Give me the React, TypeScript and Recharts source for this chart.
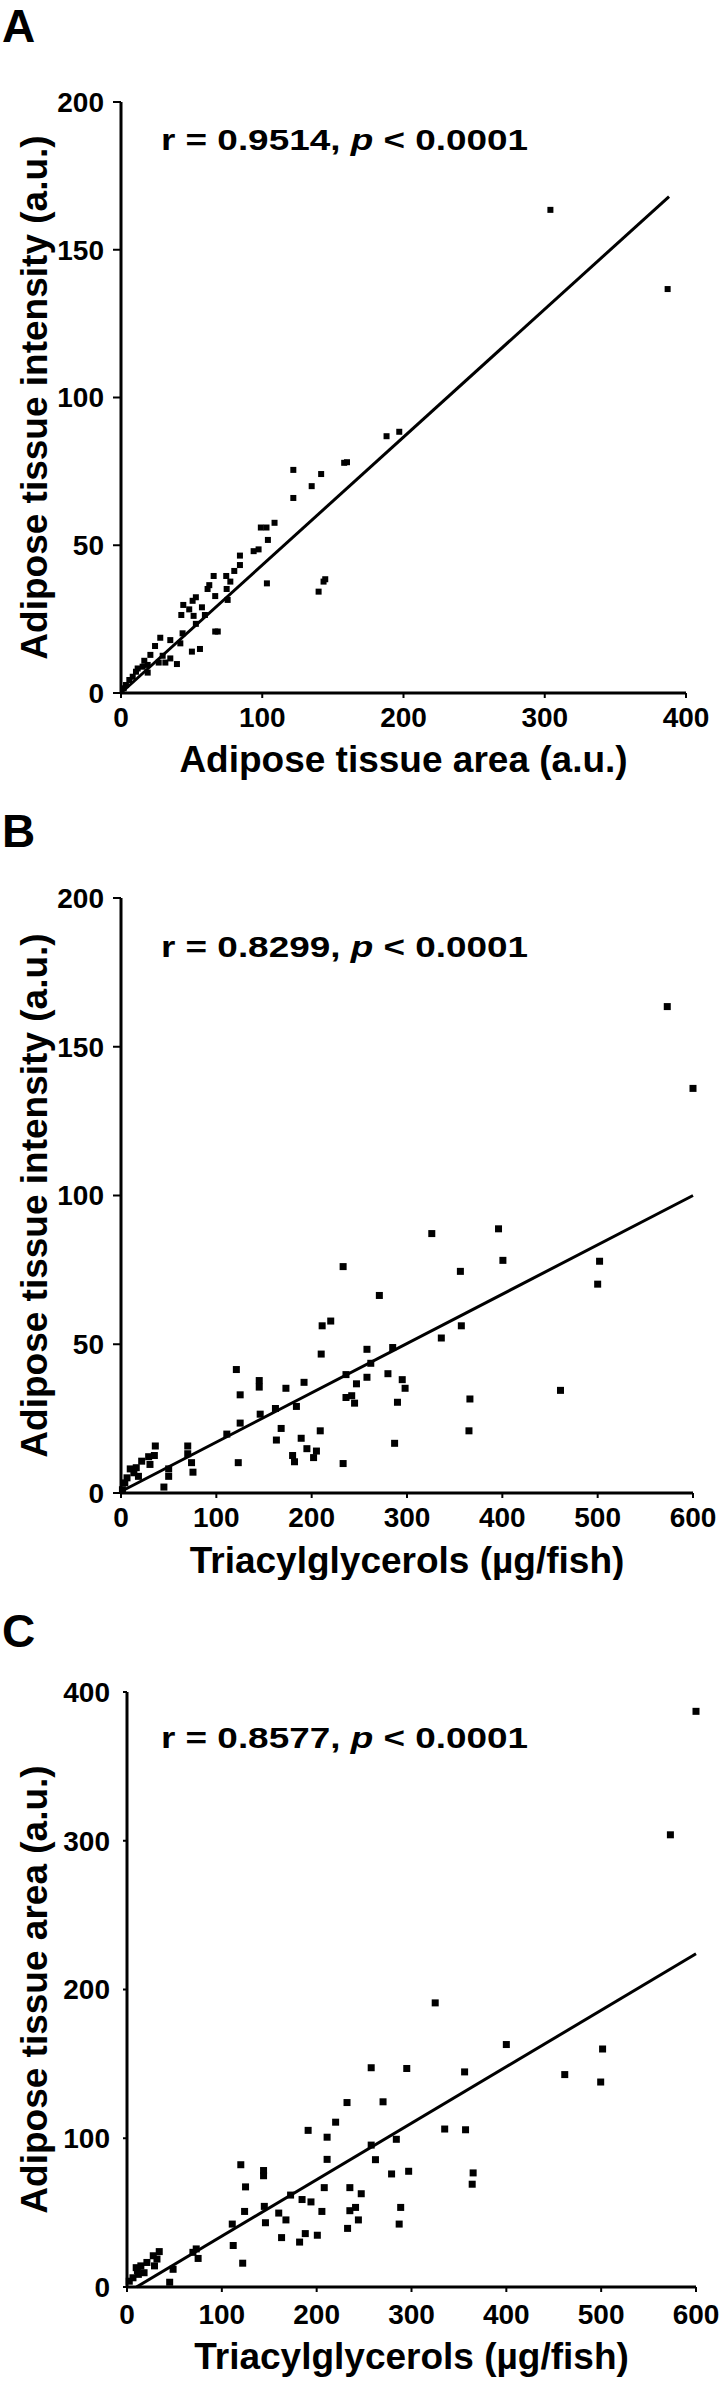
import React from 'react';
import { ScatterChart, Scatter, XAxis, YAxis, ReferenceLine } from 'recharts';

const FONT = '"Liberation Sans", Arial, Helvetica, sans-serif';

// Panel A: area (x) vs intensity (y)
const pointsA: [number, number][] = [
  [1.9, 1.6], [3.5, 2.7], [5.9, 4.4], [8.3, 5.5], [10.6, 7.2], [11.8, 8.3], [15.3, 8.9], [16.5, 10.9],
  [18.9, 9.5], [18.9, 6.9], [20.8, 12.9], [24.1, 15.9], [26.7, 10.3], [27.8, 18.7], [29.5, 12.6], [31.4, 10.3],
  [34.9, 17.9], [34.9, 11.7], [39.6, 9.8], [42, 16.8], [42.7, 26.4], [43.6, 20.2], [44.1, 29.8], [48.3, 28.3],
  [50.2, 14], [50.7, 31.2], [51.4, 26.1], [53, 32.4], [53, 23.4], [55.9, 14.9], [57.3, 29], [59.4, 26.4],
  [61.3, 35.2], [62.5, 36.5], [65.6, 39.6], [66.7, 32.8], [66.7, 20.8], [68.5, 20.8], [74.5, 39.6], [74.8, 35.2],
  [75.5, 31.5], [77.4, 37.7], [80.2, 41.3], [84.2, 43.3], [84.2, 46.5], [93.9, 48], [97.4, 48.6], [99, 56],
  [103, 56], [103.3, 37.1], [104, 51.8], [108.7, 57.6], [122, 66], [122, 75.5], [135, 70], [139.9, 34.3],
  [141.7, 74.1], [143.4, 37.7], [144.6, 38.5], [158, 77.9], [160, 78.1], [188, 86.9], [197, 88.4],
  [304, 163.5], [387, 136.7],
];
const fitA: [number, number][] = [[0, 0], [388, 168]];

// Panel B: triacylglycerols (x) vs intensity (y)
const pointsB: [number, number][] = [
  [1.5, 1.1], [4, 3.4], [6.3, 5.1], [9.7, 8.1], [13.5, 6.8], [16, 8.5], [18.3, 5.6], [21.7, 10.7],
  [29, 12.2], [30.4, 9.6], [35, 12.6], [36, 15.8], [45, 2], [50, 8.1], [50, 5.6], [70, 15.8],
  [70, 13.2], [74, 10.2], [75.5, 7], [111, 19.8], [121, 41.5], [123, 10.2], [125, 33], [125, 23.5],
  [145, 37.8], [145, 35.6], [146, 26.5], [162, 28.4], [163, 17.8], [168, 21.7], [173, 35.2], [180, 12.6],
  [182, 10.5], [184, 29.1], [189, 18.4], [192, 37.2], [195, 14.9], [202, 11.9], [205, 14.1], [209, 20.9],
  [210, 46.7], [211, 56.2], [220, 57.8], [233, 76.1], [233, 9.9], [236, 39.8], [236, 32.1], [242, 32.7],
  [245, 30.2], [247, 36.7], [258, 48.3], [258, 38.9], [262, 43.6], [271, 66.4], [280, 40.1], [285, 48.9],
  [287, 16.7], [290, 30.5], [295, 38.1], [298, 35.2], [326, 87.2], [336, 52.1], [356, 74.5], [357, 56.2],
  [365, 20.9], [366, 31.6], [396, 88.8], [400.6, 78.2], [461, 34.5], [500, 70.2], [502, 77.9],
  [573, 163.5], [600, 136],
];
const fitB: [number, number][] = [[0, 0.5], [600, 100]];

// Panel C: triacylglycerols (x) vs area (y)
const pointsC: [number, number][] = [
  [2.4, 3.9], [6.3, 6.2], [9.7, 13], [11, 10.8], [12, 8.5], [14.6, 14.2], [18, 9.6], [21, 16.5],
  [27.7, 21], [29, 14.2], [31.6, 18.8], [34, 23.8], [45, 3.2], [48.6, 11.9], [69.5, 23.3], [73, 25.6],
  [75, 19.2], [111, 42.3], [112, 27.9], [120, 82.2], [122, 16], [124, 50.8], [125, 67.3], [144, 78.3],
  [144, 74.8], [144.8, 54.2], [146, 43.2], [160, 49.7], [163, 33.2], [167.6, 45.1], [172.5, 61.8], [182, 30.2],
  [184.6, 58.8], [188, 35.9], [191, 105.3], [194, 57.2], [200.7, 34.8], [205.5, 50.8], [208, 66.8], [211, 100.7],
  [211, 85.8], [220, 110.8], [232, 124], [232.6, 39.4], [235, 66.8], [235, 51.3], [241, 53.5], [244, 45.1],
  [247, 62.7], [257.5, 147.4], [257.5, 95.4], [262, 85.6], [270, 124.5], [279, 76], [284, 99.3], [287, 42.3],
  [288.6, 53.5], [295, 146.9], [297, 77.8], [325, 191], [335, 106.2], [356, 144.6], [357, 105.7], [364, 69.1],
  [365, 76.7], [400, 163], [461.6, 142.8], [499.5, 137.8], [501.5, 160], [573, 304], [600, 387],
];
const fitC: [number, number][] = [[10, 0], [600, 224]];

const ticksArea = [0, 100, 200, 300, 400];
const ticksTag = [0, 100, 200, 300, 400, 500, 600];
const ticksIntensity = [0, 50, 100, 150, 200];

const toXY = (pts: [number, number][]) => pts.map(([x, y]) => ({ x, y }));

interface PanelProps {
  letter: string;
  r: string;
  points: [number, number][];
  fit: [number, number][];
  xTicks: number[];
  yTicks: number[];
  xTitle: string;
  yTitle: string;
  height: number;
  margin: { top: number; right: number; bottom: number; left: number };
  yAxisWidth: number;
  xAxisHeight: number;
  letterY: number;
  rY: number;
  xTitleY: number;
  yTickSize: number;
  xTickMargin: number;
  marker: number;
}

function Panel(p: PanelProps) {
  const W = 719;
  const plotTop = p.margin.top;
  const plotBottom = p.height - p.margin.bottom - p.xAxisHeight;
  const plotLeft = p.margin.left + p.yAxisWidth;
  const plotRight = W - p.margin.right;
  const cy = (plotTop + plotBottom) / 2;
  const cx = (plotLeft + plotRight) / 2;
  const s = p.marker;
  const tickStyle = { fill: '#000', fontSize: 28, fontWeight: 700, fontFamily: FONT };
  const titleStyle = { fill: '#000', fontSize: 37, fontWeight: 700, fontFamily: FONT };

  return (
    <div style={{ position: 'relative', width: W, height: p.height }}>
      <ScatterChart width={W} height={p.height} margin={p.margin}>
        <XAxis
          type="number"
          dataKey="x"
          domain={[p.xTicks[0], p.xTicks[p.xTicks.length - 1]]}
          ticks={p.xTicks}
          interval={0}
          height={p.xAxisHeight}
          axisLine={{ stroke: '#000', strokeWidth: 3 }}
          tickLine={{ stroke: '#000', strokeWidth: 2 }}
          tickSize={5}
          tickMargin={p.xTickMargin}
          tick={tickStyle}
          label={{
            content: () => (
              <text x={cx} y={p.xTitleY} textAnchor="middle" {...titleStyle}>
                {p.xTitle}
              </text>
            ),
          }}
        />
        <YAxis
          type="number"
          dataKey="y"
          domain={[p.yTicks[0], p.yTicks[p.yTicks.length - 1]]}
          ticks={p.yTicks}
          interval={0}
          width={p.yAxisWidth}
          axisLine={{ stroke: '#000', strokeWidth: 3 }}
          tickLine={{ stroke: '#000', strokeWidth: 2 }}
          tickSize={p.yTickSize}
          tickMargin={17 - p.yTickSize}
          tick={tickStyle}
          label={{
            content: () => (
              <text
                x={47}
                y={cy}
                textAnchor="middle"
                transform={`rotate(-90, 47, ${cy})`}
                {...titleStyle}
              >
                {p.yTitle}
              </text>
            ),
          }}
        />
        <ReferenceLine
          segment={p.fit.map(([x, y]) => ({ x, y }))}
          stroke="#000"
          strokeWidth={3}
          ifOverflow="visible"
        />
        <Scatter
          data={toXY(p.points)}
          isAnimationActive={false}
          shape={(props: any) => (
            <rect x={props.cx - s / 2} y={props.cy - s / 2} width={s} height={s} fill="#000" />
          )}
        />
      </ScatterChart>
      <svg
        width={W}
        height={p.height}
        style={{ position: 'absolute', left: 0, top: 0, pointerEvents: 'none' }}
      >
        <text x={2} y={p.letterY} fontSize={46} fontWeight={700} fontFamily={FONT} fill="#000">
          {p.letter}
        </text>
        <text
          x={161}
          y={p.rY}
          fontSize={30}
          fontWeight={700}
          fontFamily={FONT}
          fill="#000"
          textLength={367}
          lengthAdjust="spacingAndGlyphs"
        >
          r = {p.r}, <tspan fontStyle="italic">p</tspan> &lt; 0.0001
        </text>
      </svg>
    </div>
  );
}

export default function App() {
  return (
    <div style={{ position: 'absolute', left: 0, top: 0, width: 719, height: 2381, background: '#fff' }}>
      <Panel
        letter="A"
        r="0.9514"
        points={pointsA}
        fit={fitA}
        xTicks={ticksArea}
        yTicks={ticksIntensity}
        xTitle="Adipose tissue area (a.u.)"
        yTitle="Adipose tissue intensity (a.u.)"
        height={790}
        margin={{ top: 102, right: 33, bottom: 0, left: 0 }}
        yAxisWidth={121}
        xAxisHeight={97}
        letterY={42}
        rY={150}
        xTitleY={772}
        yTickSize={8}
        xTickMargin={9}
        marker={6}
      />
      <Panel
        letter="B"
        r="0.8299"
        points={pointsB}
        fit={fitB}
        xTicks={ticksTag}
        yTicks={ticksIntensity}
        xTitle="Triacylglycerols (µg/fish)"
        yTitle="Adipose tissue intensity (a.u.)"
        height={790}
        margin={{ top: 108, right: 26, bottom: 0, left: 0 }}
        yAxisWidth={121}
        xAxisHeight={87}
        letterY={57}
        rY={167}
        xTitleY={783}
        yTickSize={8}
        xTickMargin={9}
        marker={7}
      />
      <Panel
        letter="C"
        r="0.8577"
        points={pointsC}
        fit={fitC}
        xTicks={ticksTag}
        yTicks={ticksArea}
        xTitle="Triacylglycerols (µg/fish)"
        yTitle="Adipose tissue area (a.u.)"
        height={801}
        margin={{ top: 112, right: 23, bottom: 0, left: 0 }}
        yAxisWidth={127}
        xAxisHeight={94}
        letterY={67}
        rY={168}
        xTitleY={789}
        yTickSize={4}
        xTickMargin={12}
        marker={7}
      />
    </div>
  );
}
